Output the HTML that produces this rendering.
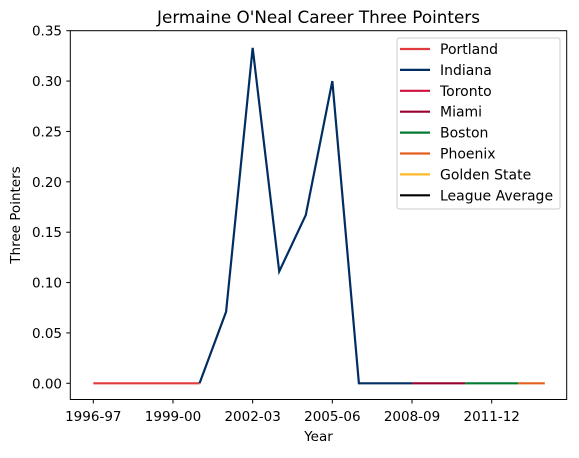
<!DOCTYPE html>
<html><head><meta charset="utf-8"><style>body{margin:0;background:#fff}svg text{font-family:"DejaVu Sans","Liberation Sans",sans-serif;fill:#000}</style></head>
<body>
<svg id="chart" width="579" height="453" xmlns="http://www.w3.org/2000/svg">
<text x="318.5" y="23" font-size="16.8" text-anchor="middle">Jermaine O'Neal Career Three Pointers</text>
<rect x="70.3" y="30.7" width="496.4" height="368.8" fill="none" stroke="#000" stroke-width="1"/>
<text x="318.5" y="441" font-size="13.5" text-anchor="middle">Year</text>
<text transform="translate(20,215) rotate(-90)" font-size="13.5" text-anchor="middle">Three Pointers</text>
<g id="legend"></g>
</svg>
<script>
const xTickLabels=["1996-97","1999-00","2002-03","2005-06","2008-09","2011-12"];
const xTickIdx=[0,3,6,9,12,15];
const yTicks=[0,0.05,0.10,0.15,0.20,0.25,0.30,0.35];
const teams=["Portland","Indiana","Toronto","Miami","Boston","Phoenix","Golden State","League Average"];
const colors=["#E03A3E","#002D62","#CE1141","#98002E","#007A33","#E56020","#FDB927","#000000"];
const portlandIdx=[0,1,2,3,4];const portlandVal=[0,0,0,0,0];
const indianaIdx=[4,5,6,7,8,9,10,11,12];const indianaVal=[0,0.071,0.333,0.111,0.167,0.300,0,0,0];
const miamiIdx=[12,13,14];const miamiVal=[0,0,0];
const bostonIdx=[14,15,16];const bostonVal=[0,0,0];
const phoenixIdx=[16,17];const phoenixVal=[0,0];
const NS="http://www.w3.org/2000/svg";
const svg=document.getElementById('chart');
const xs=i=>93.3+i*26.56;
const ys=v=>383.3-v*(352.6/0.35);
function mk(t,a,parent){const e=document.createElementNS(NS,t);for(const k in a)e.setAttribute(k,a[k]);(parent||svg).appendChild(e);return e;}
xTickIdx.forEach((ix,i)=>{
 const t=mk('line',{x1:xs(ix),x2:xs(ix),y1:399.5,y2:403.5,stroke:'#000'});
 
 
 const l=mk('text',{x:xs(ix),y:421,'font-size':13.5,'text-anchor':'middle'});l.textContent=xTickLabels[i];
 
 
});
yTicks.forEach(v=>{
 const t=mk('line',{x1:66.3,x2:70.3,y1:ys(v),y2:ys(v),stroke:'#000'});
 
 
 const l=mk('text',{x:62,y:ys(v)+5,'font-size':13.5,'text-anchor':'end'});l.textContent=v.toFixed(2);
 
 
});
const series=[[portlandIdx,portlandVal,0,'portland-line'],[indianaIdx,indianaVal,1,'indiana-line'],[miamiIdx,miamiVal,3,'miami-line'],[bostonIdx,bostonVal,4,'boston-line'],[phoenixIdx,phoenixVal,5,'phoenix-line']];
series.forEach(s=>{
 const p=mk('polyline',{points:s[0].map((ix,j)=>xs(ix)+','+ys(s[1][j])).join(' '),fill:'none',stroke:colors[s[2]],'stroke-width':2.2});
 
 
});
const lg=document.getElementById('legend');
mk('rect',{x:397,y:38,width:163,height:171,rx:2,fill:'#fff','fill-opacity':0.8,stroke:'#ccc'},lg);
teams.forEach((t,i)=>{
 const y=49+i*20.9;
 const ln=mk('line',{x1:400,x2:430,y1:y,y2:y,stroke:colors[i],'stroke-width':2.2},lg);
 
 
 const tx=mk('text',{x:440,y:y+5,'font-size':14},lg);tx.textContent=t;
 
 
});
</script>
</body></html>
